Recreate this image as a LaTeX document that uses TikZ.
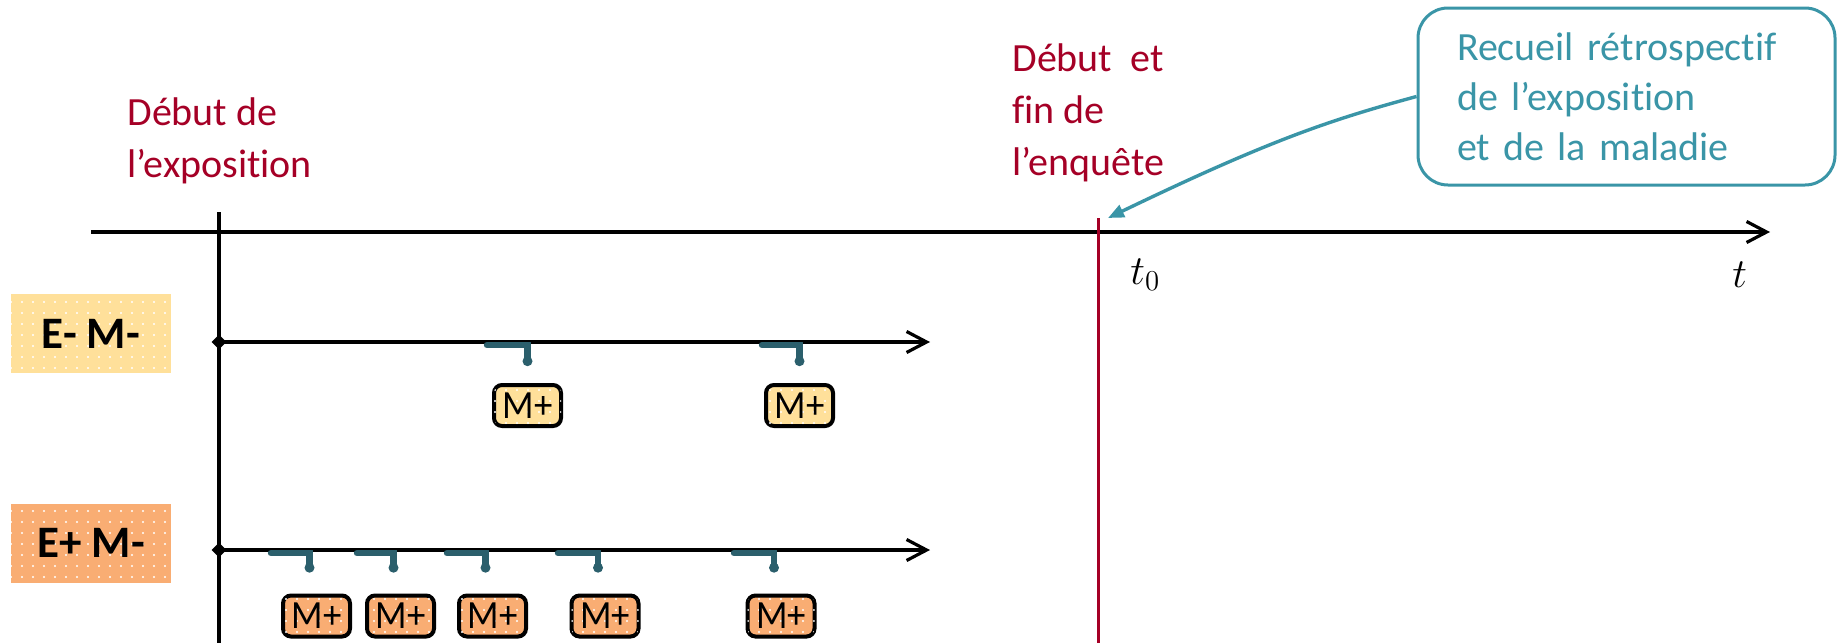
\documentclass[tikz,border=0pt]{standalone}
\usepackage{fontspec}
\setmainfont{Carlito}[Ligatures=NoCommon]
\usetikzlibrary{arrows.meta,patterns.meta,calc,shapes.geometric}

\definecolor{redtxt}{HTML}{A50026}
\definecolor{bluetxt}{HTML}{3A95A7}
\definecolor{connc}{HTML}{2B5F6C}
\definecolor{lightyel}{HTML}{FFE09A}
\definecolor{lightorg}{HTML}{F9AD73}

% small white dots used as a texture on the filled boxes
\tikzdeclarepattern{
  name=wdots,
  type=uncolored,
  bounding box={(-2.75pt,-2.75pt) and (2.75pt,2.75pt)},
  tile size={(5.5pt,5.5pt)},
  code={\fill (0pt,0pt) circle (0.6pt);}
}

\begin{document}
\begin{tikzpicture}[x=0.5pt,y=-0.5pt,
  axisline/.style={line width=1.6pt,-{Straight Barb[length=10pt,width=10.5pt]}},
  rowline/.style={line width=1.6pt,-{Straight Barb[length=10pt,width=10.5pt]}},
  startmark/.style={diamond,fill=black,inner sep=0pt,minimum size=7.5pt},
  redlbl/.style={text=redtxt,font=\fontsize{20pt}{26pt}\selectfont,align=left,inner sep=0pt,anchor=base west},
  rowlbl/.style={minimum width=80pt,minimum height=39.5pt,inner sep=0pt,
    font=\fontsize{22.5pt}{26pt}\selectfont\bfseries,
    postaction={pattern=wdots,pattern color=white}},
  mbox/.style={draw=black,line width=2pt,rounded corners=4pt,minimum width=33.5pt,
    minimum height=20.5pt,inner sep=0pt,font=\fontsize{20pt}{22pt}\selectfont,
    postaction={pattern=wdots,pattern color=white}},
  conn/.style={draw=connc,line width=3.2pt,line cap=round,-{Circle[length=4.8pt]}},
  tlbl/.style={font=\fontsize{22pt}{26pt}\selectfont,inner sep=0pt,anchor=base west}
]
\useasboundingbox (0,0) rectangle (1839,643);
\newcommand\mplus{\scalebox{0.92}[1]{M+}}

% time axis
\coordinate (ax0) at (91,232);
\coordinate (ax1) at (1770,232);
\draw[axisline] (ax0) -- (ax1);
\node[tlbl] (tlab) at (1732,287) {$t$};

% start of exposure
\coordinate (exp0) at (219,212);
\coordinate (exp1) at (219,643);
\draw[line width=1.6pt] (exp0) -- (exp1);
\node[redlbl] (lexp) at (127,177) {Début de\\l’exposition};

% survey date
\coordinate (sv0) at (1098,218);
\coordinate (sv1) at (1098,643);
\draw[draw=redtxt,line width=1.5pt] (sv0) -- (sv1);
\node[redlbl] (lsv) at (1012,175) {Début~ et\\fin de\\l’enquête};
\node[tlbl] (t0lab) at (1130,284) {$t_0$};

% retrospective collection note
\node[draw=bluetxt,line width=1.5pt,rounded corners=15pt,text=bluetxt,
  font=\fontsize{20pt}{25pt}\selectfont,align=left,text width=169.5pt,
  inner xsep=19.5pt,minimum height=88.5pt] (note) at (1626.5,96.5)
  {Recueil rétrospectif\\de l’exposition\\et de la maladie};
\coordinate (tip) at (1108,218);
\draw[draw=bluetxt,line width=1.7pt,-{Triangle[length=8pt,width=6.5pt]}]
  (note.west) .. controls (1330,120) and (1270,140) .. (tip);

% row E- M-
\node[rowlbl,fill=lightyel] (em) at (91,333.5) {E- M-};
\node[startmark] (r1) at (219,342) {};
\coordinate (r1end) at (930,342);
\draw[rowline] (r1.center) -- (r1end);
\node[mbox,fill=lightyel] (m11) at (527.5,405.5) {\mplus};
\node[mbox,fill=lightyel] (m12) at (799.5,405.5) {\mplus};
\coordinate (a11) at (487,345);
\coordinate (a12) at (762,345);
\draw[conn] (a11) -| ($(m11.north)+(0,-17)$);
\draw[conn] (a12) -| ($(m12.north)+(0,-17)$);

% row E+ M-
\node[rowlbl,fill=lightorg] (ep) at (91,543) {E+ M-};
\node[startmark] (r2) at (219,550) {};
\coordinate (r2end) at (930,550);
\draw[rowline] (r2.center) -- (r2end);
\node[mbox,fill=lightorg] (m21) at (316.5,616) {\mplus};
\node[mbox,fill=lightorg] (m22) at (400.5,616) {\mplus};
\node[mbox,fill=lightorg] (m23) at (492.5,616) {\mplus};
\node[mbox,fill=lightorg] (m24) at (605,616) {\mplus};
\node[mbox,fill=lightorg] (m25) at (781,616) {\mplus};
\coordinate (a21) at (271,553);
\coordinate (a22) at (357,553);
\coordinate (a23) at (447,553);
\coordinate (a24) at (558,553);
\coordinate (a25) at (734,553);
\foreach \i in {1,...,5}{
  \draw[conn] (a2\i) -| ($(m2\i.north)+(-7,-21)$);
}
\end{tikzpicture}
\end{document}
